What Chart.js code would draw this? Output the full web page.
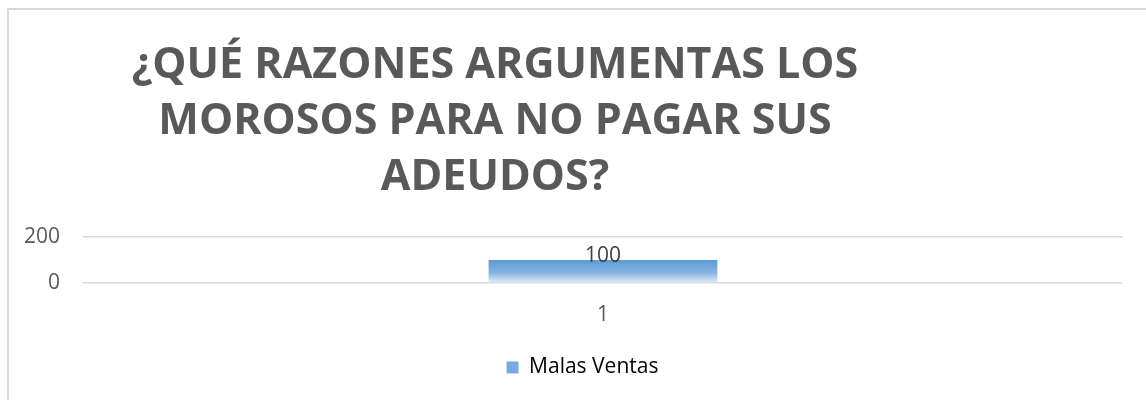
<!DOCTYPE html>
<html lang="es">
<head>
    <meta charset="UTF-8">
    <title>Morosos</title>
    <script src="https://cdn.jsdelivr.net/npm/chart.js"></script>
    <style>
        body { margin: 0; background: #fff; }
        #wrap { position: relative; width: 1146px; height: 400px; overflow: hidden; }
        #frame { position: absolute; left: 7px; top: 8px; width: 1200px; height: 450px;
                 border: 2px solid #d9d9d9; pointer-events: none; }
    </style>
</head>
<body>
    <div id="wrap">
        <canvas id="chart" width="1146" height="400"></canvas>
        <div id="frame"></div>
    </div>

    <script>
        // chart data
        const titleLines = ['¿QUÉ RAZONES ARGUMENTAS LOS', 'MOROSOS PARA NO PAGAR SUS', 'ADEUDOS?'];
        const categories = ['1'];
        const seriesName = 'Malas Ventas';
        const seriesValues = [100];
        const yTicks = [0, 200];

        const grey = '#595959';

        function barGradient(ctx, top, bottom) {
            const g = ctx.createLinearGradient(0, top, 0, bottom);
            g.addColorStop(0, '#5b9bd5');
            g.addColorStop(0.55, '#86b3e2');
            g.addColorStop(1, '#e4eef9');
            return g;
        }

        // title drawn left-of-centre like the original
        const titlePlugin = {
            id: 'bigTitle',
            afterDraw(chart) {
                const ctx = chart.ctx;
                ctx.save();
                ctx.fillStyle = grey;
                ctx.font = 'bold 43px "Open Sans"';
                ctx.textAlign = 'center';
                ctx.textBaseline = 'alphabetic';
                titleLines.forEach((line, i) => {
                    ctx.fillText(line, 495, 78 + i * 56);
                });
                ctx.restore();
            }
        };

        // value label on top of the bar
        const valueLabels = {
            id: 'valueLabels',
            afterDatasetsDraw(chart) {
                const ctx = chart.ctx;
                const meta = chart.getDatasetMeta(0);
                ctx.save();
                ctx.fillStyle = '#404040';
                ctx.font = '21px "Open Sans"';
                ctx.textAlign = 'center';
                ctx.textBaseline = 'middle';
                meta.data.forEach((bar, i) => {
                    ctx.fillText(String(seriesValues[i]), bar.x, bar.y - 4);
                });
                ctx.restore();
            }
        };

        // legend sits a bit right of the canvas centre
        const legendShift = {
            id: 'legendShift',
            afterLayout(chart) {
                chart.legend.left += 21;
                chart.legend.right += 21;
            }
        };

        const chart = new Chart(document.getElementById('chart'), {
            type: 'bar',
            data: {
                labels: categories,
                datasets: [{
                    label: seriesName,
                    data: seriesValues,
                    backgroundColor: (c) => {
                        const ch = c.chart;
                        if (!ch.chartArea) return '#5b9bd5';
                        const y = ch.scales.y;
                        return barGradient(ch.ctx, y.getPixelForValue(c.raw || 0), y.getPixelForValue(0));
                    },
                    borderWidth: 0,
                    categoryPercentage: 1,
                    barPercentage: 0.22
                }]
            },
            options: {
                responsive: false,
                animation: false,
                layout: { padding: { left: 0, right: 23, top: 237, bottom: 12 } },
                scales: {
                    x: {
                        grid: { display: false },
                        border: { display: false },
                        ticks: { color: grey, font: { family: 'Open Sans', size: 21 }, padding: 11 },
                        afterFit: (s) => { s.height = 64; }
                    },
                    y: {
                        min: yTicks[0],
                        max: yTicks[yTicks.length - 1],
                        afterBuildTicks: (s) => { s.ticks = yTicks.map(v => ({ value: v })); },
                        grid: { color: '#d9d9d9', lineWidth: 1.5, drawTicks: false },
                        border: { display: false },
                        ticks: { color: grey, font: { family: 'Open Sans', size: 21 }, padding: 23 },
                        afterFit: (s) => { s.width = 83; }
                    }
                },
                plugins: {
                    title: { display: false },
                    tooltip: { enabled: false },
                    legend: {
                        position: 'bottom',
                        labels: {
                            color: grey,
                            font: { family: 'Open Sans', size: 21 },
                            boxWidth: 12,
                            boxHeight: 12,
                            padding: 10,
                            generateLabels: () => [{
                                text: seriesName,
                                fillStyle: '#78aae0',
                                strokeStyle: '#78aae0',
                                lineWidth: 0,
                                datasetIndex: 0
                            }]
                        }
                    }
                }
            },
            plugins: [titlePlugin, valueLabels, legendShift]
        });
    </script>
</body>
</html>
